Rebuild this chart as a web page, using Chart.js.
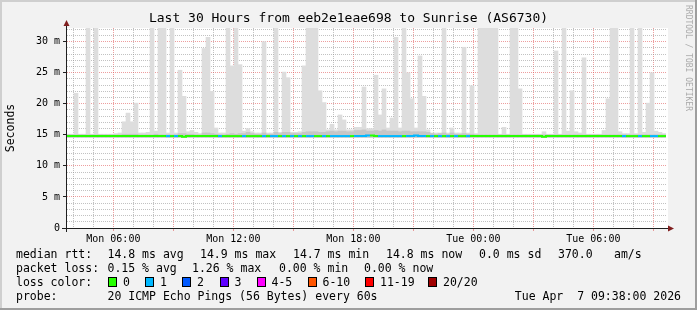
<!DOCTYPE html>
<html>
<head>
<meta charset="utf-8">
<script src="https://cdn.jsdelivr.net/npm/chart.js"></script>
<style>
  body { margin: 0; background: #f2f2f2; }
  #wrap { position: relative; width: 697px; height: 310px; overflow: hidden; background: #f2f2f2; }
  #chart { position: absolute; left: 0; top: 0; }
  .t { position: absolute; font-family: 'DejaVu Sans Mono', monospace; font-size: 11.5px; line-height: 14px; white-space: pre; color: #000; }
  .sw { position: absolute; width: 7px; height: 8px; border: 1px solid #000; }
  #credit { position: absolute; left: 693px; top: 5px; transform-origin: 0 0; transform: rotate(90deg);
            font-family: 'DejaVu Sans Mono', monospace; font-size: 8px; line-height: 9px; color: #ababab; white-space: pre; }
</style>
</head>
<body>
<div id="wrap">
  <canvas id="chart" width="697" height="310"></canvas>
  <div id="legend"></div>
  <div id="credit">RRDTOOL / TOBI OETIKER</div>
</div>
<script>
// 150 bins of 12 minutes, starting Mon 03:38
const startHour = 3 + 38 / 60;
const binHours = 0.2;

// top of the smoke (slowest ping) per bin, ms
const smokeMax = [
  15.1, 15.1, 21.7, 15.1, 15.1, 32.2, 15.1, 32.2, 15.1, 15.1,
  15.1, 15.1, 15.2, 15.3, 17.1, 18.5, 17.1, 20.1, 15.3, 15.3,
  15.4, 32.2, 15.6, 32.2, 32.2, 15.3, 32.2, 15.3, 25.4, 21.2,
  15.5, 15.7, 15.4, 15.2, 28.9, 30.7, 22.0, 16.1, 15.3, 15.3,
  32.2, 26.1, 32.2, 26.3, 15.6, 16.0, 15.5, 15.3, 15.3, 30.0,
  15.3, 15.3, 32.2, 15.4, 25.1, 24.2, 15.4, 15.4, 15.5, 26.1,
  32.2, 32.2, 32.2, 22.1, 20.2, 15.8, 16.7, 15.8, 18.2, 17.4,
  15.8, 15.8, 16.2, 16.2, 22.7, 16.0, 16.0, 24.6, 18.2, 22.4,
  16.1, 17.7, 30.7, 16.1, 32.2, 25.0, 20.8, 16.1, 27.7, 21.2,
  15.8, 15.3, 15.3, 15.3, 32.2, 15.3, 16.1, 15.3, 15.3, 29.1,
  15.3, 22.9, 15.2, 32.2, 32.2, 32.2, 32.2, 32.2, 15.1, 16.2,
  15.1, 32.2, 32.2, 22.4, 15.1, 15.1, 15.1, 15.1, 15.1, 15.5,
  15.1, 15.1, 28.5, 15.1, 32.2, 15.6, 22.1, 15.5, 15.3, 27.4,
  15.1, 15.1, 15.1, 15.1, 15.7, 20.8, 32.2, 32.2, 15.5, 15.2,
  15.2, 32.2, 15.2, 32.2, 15.4, 20.1, 25.0, 15.6, 15.4, 15.2
];

// top of the dense part of the smoke per bin, ms
const smokeCore = [
  15.0, 15.0, 15.0, 15.0, 15.0, 15.0, 15.0, 15.0, 15.0, 15.0,
  15.0, 15.0, 15.0, 15.0, 15.1, 15.1, 15.1, 15.1, 15.0, 15.0,
  15.0, 15.0, 15.1, 15.0, 15.0, 15.0, 15.0, 15.0, 15.2, 15.2,
  15.1, 15.1, 15.0, 15.0, 15.3, 15.3, 15.2, 15.1, 15.0, 15.0,
  15.1, 15.2, 15.1, 15.2, 15.2, 15.4, 15.2, 15.1, 15.1, 15.3,
  15.1, 15.1, 15.4, 15.2, 15.4, 15.4, 15.2, 15.2, 15.2, 15.4,
  15.5, 15.5, 15.5, 15.4, 15.4, 15.5, 15.6, 15.5, 15.6, 15.6,
  15.5, 15.5, 15.7, 15.7, 15.8, 15.6, 15.6, 15.7, 15.6, 15.8,
  15.6, 15.6, 15.6, 15.5, 15.6, 15.6, 15.5, 15.5, 15.5, 15.5,
  15.4, 15.2, 15.1, 15.2, 15.3, 15.1, 15.3, 15.1, 15.1, 15.2,
  15.1, 15.1, 15.0, 15.0, 15.0, 15.0, 15.0, 15.0, 15.0, 15.0,
  15.0, 15.0, 15.0, 15.0, 15.0, 15.0, 15.0, 15.0, 15.0, 15.0,
  15.0, 15.0, 15.0, 15.0, 15.0, 15.0, 15.0, 15.0, 15.0, 15.0,
  15.0, 15.0, 15.0, 15.0, 15.0, 15.0, 15.0, 15.0, 15.0, 15.0,
  15.0, 15.0, 15.0, 15.0, 15.0, 15.0, 15.0, 15.0, 15.0, 15.0
];
const smokeFloor = 14.6;

// median rtt per bin, ms
const median = [
  14.8, 14.8, 14.8, 14.8, 14.8, 14.8, 14.8, 14.8, 14.8, 14.8,
  14.8, 14.8, 14.8, 14.8, 14.8, 14.8, 14.8, 14.8, 14.8, 14.8,
  14.8, 14.8, 14.8, 14.8, 14.8, 14.8, 14.8, 14.8, 14.8, 14.8,
  14.7, 14.8, 14.8, 14.8, 14.8, 14.8, 14.8, 14.8, 14.8, 14.8,
  14.8, 14.8, 14.8, 14.8, 14.8, 14.8, 14.8, 14.8, 14.8, 14.8,
  14.8, 14.8, 14.8, 14.8, 14.8, 14.8, 14.8, 14.8, 14.8, 14.8,
  14.8, 14.8, 14.8, 14.8, 14.8, 14.8, 14.8, 14.8, 14.8, 14.8,
  14.8, 14.8, 14.8, 14.8, 14.8, 14.8, 14.9, 14.9, 14.8, 14.8,
  14.8, 14.8, 14.8, 14.8, 14.8, 14.8, 14.8, 14.8, 14.9, 14.8,
  14.8, 14.8, 14.8, 14.8, 14.8, 14.8, 14.8, 14.8, 14.8, 14.8,
  14.8, 14.8, 14.8, 14.8, 14.8, 14.8, 14.8, 14.8, 14.8, 14.8,
  14.8, 14.8, 14.8, 14.8, 14.8, 14.8, 14.8, 14.8, 14.8, 14.8,
  14.7, 14.8, 14.8, 14.8, 14.8, 14.8, 14.8, 14.8, 14.8, 14.8,
  14.8, 14.8, 14.8, 14.8, 14.8, 14.8, 14.8, 14.8, 14.8, 14.8,
  14.8, 14.8, 14.8, 14.8, 14.8, 14.8, 14.8, 14.8, 14.8, 14.8
];

// lost pings (of 20) per bin
const loss = [
  0, 0, 0, 0, 0, 0, 0, 0, 0, 0,
  0, 0, 0, 0, 0, 0, 0, 0, 0, 0,
  0, 0, 0, 0, 0, 1, 0, 1, 0, 0,
  0, 0, 0, 0, 0, 0, 0, 0, 1, 0,
  0, 0, 0, 0, 1, 0, 0, 0, 0, 1,
  0, 1, 1, 0, 1, 0, 1, 0, 1, 0,
  1, 1, 0, 0, 1, 0, 1, 1, 1, 1,
  1, 0, 1, 1, 1, 1, 0, 0, 1, 1,
  1, 1, 1, 1, 0, 1, 1, 1, 1, 1,
  0, 1, 0, 1, 0, 1, 0, 1, 0, 0,
  1, 0, 0, 0, 0, 0, 0, 0, 0, 0,
  0, 0, 0, 0, 0, 0, 0, 0, 0, 0,
  0, 0, 0, 0, 0, 0, 0, 0, 0, 0,
  0, 0, 0, 0, 0, 0, 0, 0, 0, 1,
  0, 0, 0, 1, 0, 0, 1, 1, 0, 0
];

const lossLabels = ['0', '1', '2', '3', '4-5', '6-10', '11-19', '20/20'];
const lossLimits = [0, 1, 2, 3, 5, 10, 19, 20];
const lossColors = ['#26ff00', '#00b8ff', '#0059ff', '#5e00ff', '#ff00ff', '#ff5500', '#ff0000', '#a00000'];

const timeLabelHours = [6, 12, 18, 24, 30];
const timeLabels = ['Mon 06:00', 'Mon 12:00', 'Mon 18:00', 'Tue 00:00', 'Tue 06:00'];
const yLabelValues = [0, 5, 10, 15, 20, 25, 30];
const yLabels = ['0', '5 m', '10 m', '15 m', '20 m', '25 m', '30 m'];

const rttStats = ['14.8 ms avg', '14.9 ms max', '14.7 ms min', '14.8 ms now', '0.0 ms sd', '370.0', 'am/s'];
const lossStats = ['0.15 % avg', '1.26 % max', '0.00 % min', '0.00 % now'];
const probeText = '20 ICMP Echo Pings (56 Bytes) every 60s';
const stampText = 'Tue Apr  7 09:38:00 2026';

const gridColor = 'rgba(143,143,143,0.55)';
const mgridColor = 'rgba(222,79,79,0.55)';
const axisColor = '#1f1f1f';
const mono = 'DejaVu Sans Mono';

const lossColor = n => lossColors[lossLimits.findIndex(l => n <= l)];
const binCenter = i => startHour + (i + 0.5) * binHours;

const medianPoints = median.map((m, i) => ({ x: startHour + i * binHours, y: m }));
medianPoints.push({ x: startHour + median.length * binHours, y: median[median.length - 1] });

const rrdFrame = {
  id: 'rrdFrame',
  beforeDraw(chart) {
    const { ctx, chartArea: a } = chart;
    ctx.save();
    ctx.fillStyle = '#ffffff';
    ctx.fillRect(a.left, a.top, a.right - a.left + 2, a.bottom - a.top);
    ctx.restore();
  },
  afterDraw(chart) {
    const { ctx, chartArea: a, width, height } = chart;
    ctx.save();
    ctx.strokeStyle = axisColor;
    ctx.lineWidth = 1;
    ctx.beginPath();
    ctx.moveTo(a.left - 4, a.bottom + 0.5);
    ctx.lineTo(a.right + 4, a.bottom + 0.5);
    ctx.moveTo(a.left + 0.5, a.bottom + 4);
    ctx.lineTo(a.left + 0.5, a.top - 4);
    ctx.stroke();
    ctx.fillStyle = '#801f1f';
    ctx.beginPath();
    ctx.moveTo(a.left - 2.5, a.top - 2);
    ctx.lineTo(a.left + 3.5, a.top - 2);
    ctx.lineTo(a.left + 0.5, a.top - 8);
    ctx.closePath();
    ctx.fill();
    ctx.beginPath();
    ctx.moveTo(a.right + 2, a.bottom - 2.5);
    ctx.lineTo(a.right + 2, a.bottom + 3.5);
    ctx.lineTo(a.right + 8, a.bottom + 0.5);
    ctx.closePath();
    ctx.fill();
    ctx.fillStyle = '#cfcfcf';
    ctx.fillRect(0, 0, width, 2);
    ctx.fillRect(0, 0, 2, height);
    ctx.fillStyle = '#9e9e9e';
    ctx.fillRect(0, height - 2, width, 2);
    ctx.fillRect(width - 2, 0, 2, height);
    ctx.restore();
  }
};

new Chart(document.getElementById('chart'), {
  type: 'bar',
  data: {
    datasets: [
      {
        type: 'line',
        label: 'median rtt',
        data: medianPoints,
        stepped: 'after',
        borderWidth: 2,
        borderCapStyle: 'butt',
        pointRadius: 0,
        fill: false,
        borderColor: lossColors[0],
        segment: { borderColor: c => lossColor(loss[c.p0DataIndex]) },
        order: 0
      },
      {
        label: 'smoke core',
        data: smokeCore.map((v, i) => ({ x: binCenter(i), y: [smokeFloor, v] })),
        backgroundColor: '#c6c6c6',
        grouped: false,
        order: 1
      },
      {
        label: 'smoke',
        data: smokeMax.map((v, i) => ({ x: binCenter(i), y: [smokeFloor, v] })),
        backgroundColor: '#dddddd',
        grouped: false,
        order: 2
      }
    ]
  },
  options: {
    responsive: false,
    animation: false,
    devicePixelRatio: 1,
    layout: { padding: 0 },
    datasets: { bar: { categoryPercentage: 1, barPercentage: 1, borderWidth: 0 } },
    plugins: {
      legend: { display: false },
      tooltip: { enabled: false },
      title: {
        display: true,
        text: 'Last 30 Hours from eeb2e1eae698 to Sunrise (AS6730)',
        color: '#000',
        font: { family: mono, size: 13, weight: 'normal' },
        padding: { top: 11, bottom: 1.4 }
      }
    },
    scales: {
      x: {
        type: 'linear',
        min: startHour,
        max: startHour + smokeMax.length * binHours,
        offset: false,
        z: 1,
        afterBuildTicks: s => {
          s.ticks = [];
          for (let h = Math.ceil(s.min); h < s.max; h++) s.ticks.push({ value: h });
        },
        afterFit: s => { s.height = 82; },
        grid: {
          offset: false,
          color: c => (c.tick && c.tick.value % 3 === 0 ? mgridColor : gridColor),
          tickColor: c => (c.tick && c.tick.value % 3 === 0 ? mgridColor : 'rgba(0,0,0,0)'),
          tickLength: 3
        },
        border: { display: true, color: axisColor, dash: [1, 1] },
        ticks: {
          autoSkip: false,
          maxRotation: 0,
          padding: 2,
          color: '#000',
          font: { family: mono, size: 10 },
          callback: v => {
            const k = timeLabelHours.indexOf(v);
            return k >= 0 ? timeLabels[k] : '';
          }
        }
      },
      y: {
        type: 'linear',
        min: 0,
        max: 32.2,
        z: 1,
        afterBuildTicks: s => {
          s.ticks = [];
          for (let v = 0; v <= s.max; v++) s.ticks.push({ value: v });
        },
        afterFit: s => { s.width = 66; },
        title: {
          display: true,
          text: 'Seconds',
          color: '#000',
          font: { family: mono, size: 11.5 },
          padding: { top: 4, bottom: 4 }
        },
        grid: {
          color: c => (c.tick && c.tick.value % 5 === 0 ? mgridColor : gridColor),
          tickColor: c => (c.tick && c.tick.value % 5 === 0 ? axisColor : 'rgba(0,0,0,0)'),
          tickLength: 3
        },
        border: { display: true, color: axisColor, dash: [1, 1] },
        ticks: {
          autoSkip: false,
          padding: 3,
          color: '#000',
          font: { family: mono, size: 10 },
          callback: v => {
            const k = yLabelValues.indexOf(v);
            return k >= 0 ? yLabels[k] : '';
          }
        }
      },
      yr: {
        position: 'right',
        display: true,
        grid: { display: false, drawTicks: false },
        ticks: { display: false },
        border: { display: false },
        afterFit: s => { s.width = 31; }
      }
    }
  },
  plugins: [rrdFrame]
});

// smokeping legend block under the graph
const legend = document.getElementById('legend');
function addText(text, left, center) {
  const el = document.createElement('div');
  el.className = 't';
  el.textContent = text;
  el.style.left = left + 'px';
  el.style.top = (center - 7) + 'px';
  legend.appendChild(el);
  return el;
}

addText('median rtt:', 16, 254);
[107.5, 200, 293, 386, 479, 558, 614].forEach((x, i) => addText(rttStats[i], x, 254));

addText('packet loss:', 16, 268);
[107.5, 192, 279, 364].forEach((x, i) => addText(lossStats[i], x, 268));

addText('loss color:', 16, 282);
const swatchX = [108, 145, 182, 219.5, 256.5, 307.5, 365, 428];
lossLabels.forEach((lab, i) => {
  const sw = document.createElement('div');
  sw.className = 'sw';
  sw.style.left = swatchX[i] + 'px';
  sw.style.top = '277px';
  sw.style.background = lossColors[i];
  legend.appendChild(sw);
  addText(lab, swatchX[i] + 15, 282);
});

addText('probe:', 16, 296);
addText(probeText, 107.5, 296);
const stamp = addText(stampText, 0, 296);
stamp.style.left = 'auto';
stamp.style.right = '16px';
</script>
</body>
</html>
